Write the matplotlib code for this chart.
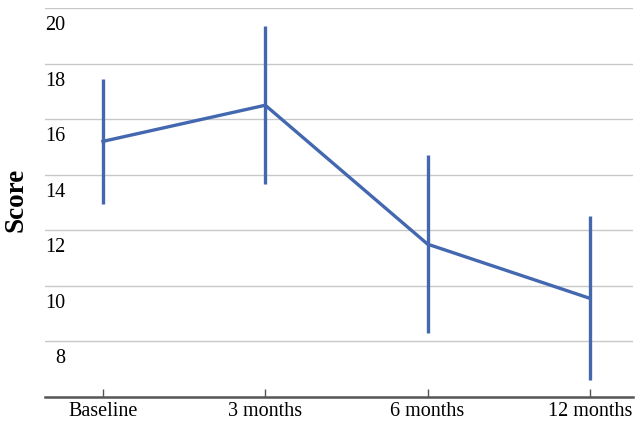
import matplotlib
matplotlib.use("Agg")
import matplotlib.pyplot as plt
from matplotlib.transforms import ScaledTranslation

# Mean score with error range per time point
timepoints = ["Baseline", "3 months", "6 months", "12 months"]
means = [15.2, 16.5, 11.5, 9.55]
errors = [2.25, 2.85, 3.2, 2.95]
yticks = [8, 10, 12, 14, 16, 18, 20]

plt.rcParams["font.family"] = ["Liberation Serif", "DejaVu Serif"]

fig = plt.figure(figsize=(6.43, 4.27), dpi=100)
ax = fig.add_axes([0.07, 0.0679, 0.9144, 0.9111])

color = "#4468b0"
x = list(range(len(timepoints)))
ax.errorbar(x, means, yerr=errors, color=color, linewidth=2.4,
            elinewidth=2.4, capsize=0, zorder=3)

ax.set_xlim(-0.357, 3.265)
ax.set_ylim(6, 20)
ax.set_xticks(x)
ax.set_xticklabels(timepoints, fontsize=14.5)
ax.set_yticks(yticks)
ax.set_yticklabels([str(v) for v in yticks], fontsize=14.5)

ax.grid(axis="y", color="#c8c8c8", linewidth=1.0)
ax.set_axisbelow(True)
for side in ["left", "right", "top"]:
    ax.spines[side].set_visible(False)
ax.spines["bottom"].set_color("#555555")
ax.spines["bottom"].set_linewidth(1.8)

ax.tick_params(axis="x", direction="in", length=6, width=1, color="#555555", pad=3)
ax.tick_params(axis="y", length=0, pad=0)

# y labels sit inside the plot, just under each gridline
offset = ScaledTranslation(20 / 100, -14 / 100, fig.dpi_scale_trans)
for lab in ax.get_yticklabels():
    lab.set_transform(lab.get_transform() + offset)

ax.set_ylabel("Score", fontsize=19.5, fontweight="bold")
ax.yaxis.set_label_coords(-0.028, 0.51)

fig.savefig("out.png", dpi=100)
